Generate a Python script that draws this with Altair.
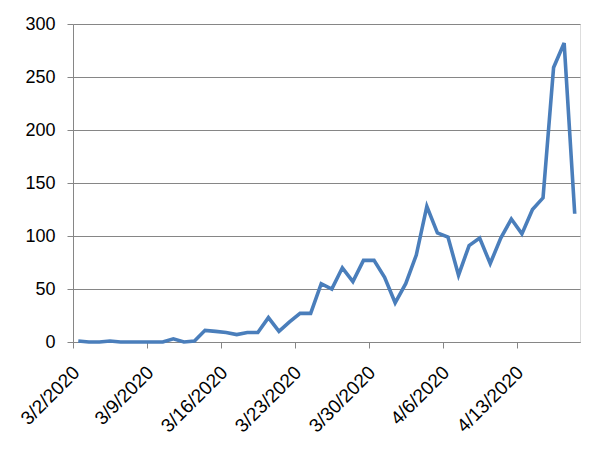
import altair as alt
import pandas as pd

dates = pd.date_range("2020-03-02", "2020-04-18", freq="D")
values = [1, 0, 0, 1, 0, 0, 0, 0, 0, 3, 0, 1,
          11, 10, 9, 7, 9, 9, 23, 10, 19, 27, 27, 55,
          50, 70, 57, 77, 77, 61, 37, 55, 82, 128, 103, 99,
          63, 91, 98, 74, 98, 116, 102, 125, 136, 259, 282, 121]
tick_labels = ["3/2/2020", "3/9/2020", "3/16/2020", "3/23/2020",
               "3/30/2020", "4/6/2020", "4/13/2020"]

start = dates[0]
df = pd.DataFrame({
    "day": [(d - start).days + 0.5 for d in dates],
    "value": values,
})

label_arr = "[" + ",".join("'" + t + "'" for t in tick_labels) + "]"
GRAY = "#868686"
FONT = "Liberation Sans"

chart = alt.Chart(df).mark_line(color="#4A7EBB", strokeWidth=3.6).encode(
    x=alt.X("day:Q",
            scale=alt.Scale(domain=[0, len(dates)], nice=False, zero=False),
            axis=alt.Axis(values=[i * 7 for i in range(len(tick_labels))],
                          labelExpr=label_arr + "[round(datum.value/7)]",
                          labelAngle=-45, labelAlign="right", labelBaseline="middle",
                          labelPadding=21, labelOffset=3, labelFont=FONT, labelFontSize=19,
                          labelColor="#000000", labelOverlap=False,
                          domainColor=GRAY, tickColor=GRAY, tickSize=6,
                          grid=False, title=None)),
    y=alt.Y("value:Q",
            scale=alt.Scale(domain=[0, 300], nice=False),
            axis=alt.Axis(values=[0, 50, 100, 150, 200, 250, 300],
                          labelFont=FONT, labelFontSize=18, labelColor="#000000",
                          labelPadding=12, domainColor=GRAY, tickColor=GRAY,
                          tickSize=6, gridColor=GRAY, gridWidth=1, title=None)),
).properties(
    width=507, height=318,
    autosize=alt.AutoSizeParams(type="none"),
    padding={"left": 65, "top": 16, "right": 23, "bottom": 102},
).configure_view(stroke=None).configure(background="white")

chart.save("out.html", embed_options={"renderer": "svg", "actions": False})
